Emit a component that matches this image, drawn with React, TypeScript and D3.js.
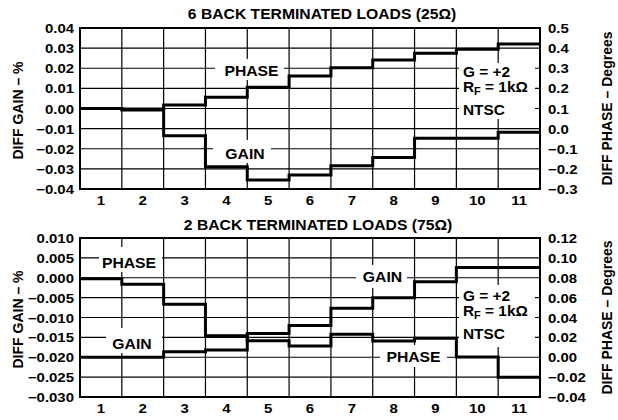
import * as d3 from 'd3';

// x categories: 1..11
const categories = [1, 2, 3, 4, 5, 6, 7, 8, 9, 10, 11];

// top panel: 6 back terminated loads (25 ohm)
const topGain = [0.0, -0.0008, -0.0136, -0.029, -0.0355, -0.0331, -0.0284, -0.0244, -0.0148, -0.0148, -0.0118];
const topPhase = [0.1, 0.097, 0.117, 0.156, 0.205, 0.261, 0.303, 0.341, 0.374, 0.395, 0.421];
const topGainTicks = [0.04, 0.03, 0.02, 0.01, 0, -0.01, -0.02, -0.03, -0.04];
const topPhaseTicks = [0.5, 0.4, 0.3, 0.2, 0.1, 0, -0.1, -0.2, -0.3];

// bottom panel: 2 back terminated loads (75 ohm)
const botGain = [-0.02, -0.02, -0.0186, -0.0182, -0.014, -0.012, -0.0077, -0.005, -0.001, 0.0026, 0.0026];
const botPhase = [0.079, 0.0734, 0.0533, 0.0217, 0.0167, 0.0113, 0.0231, 0.0164, 0.0191, 0.0003, -0.0201];
const botGainTicks = [0.01, 0.005, 0, -0.005, -0.01, -0.015, -0.02, -0.025, -0.03];
const botPhaseTicks = [0.12, 0.1, 0.08, 0.06, 0.04, 0.02, 0, -0.02, -0.04];

const FONT = '"Liberation Sans", Arial, Helvetica, sans-serif';
const X0 = 80;
const X1 = 540;

type Box = { x: number; y: number; w: number; h: number; text: string; tx: number; ty: number };

function T({ x, y, anchor = 'start', size = 13, sx = 1, children }: any) {
  return (
    <text
      transform={`translate(${x},${y}) scale(${sx},1)`}
      textAnchor={anchor}
      fontSize={size}
      fontWeight="bold"
      fontFamily={FONT}
      fill="#000"
    >
      {children}
    </text>
  );
}

function Panel({
  title,
  titleX,
  titleY,
  y0,
  y1,
  gain,
  phase,
  gainTicks,
  phaseTicks,
  gainFmt,
  phaseFmt,
  boxes,
  note,
  xLabelY,
}: {
  title: string;
  titleX: number;
  titleY: number;
  y0: number;
  y1: number;
  gain: number[];
  phase: number[];
  gainTicks: number[];
  phaseTicks: number[];
  gainFmt: string;
  phaseFmt: string;
  boxes: Box[];
  note: { x: number; y: number; w: number; h: number; base: number };
  xLabelY: number;
}) {
  const x = d3.scaleLinear().domain([0.5, 11.5]).range([X0, X1]);
  const yL = d3.scaleLinear().domain([gainTicks[gainTicks.length - 1], gainTicks[0]]).range([y1, y0]);
  const yR = d3.scaleLinear().domain([phaseTicks[phaseTicks.length - 1], phaseTicks[0]]).range([y1, y0]);
  const fL = d3.format(gainFmt);
  const fR = d3.format(phaseFmt);

  const step = (vals: number[], y: d3.ScaleLinear<number, number>) =>
    d3
      .line<[number, number]>()
      .x((d) => x(d[0]))
      .y((d) => y(d[1]))(
      vals.flatMap((v, i) => [
        [categories[i] - 0.5, v] as [number, number],
        [categories[i] + 0.5, v] as [number, number],
      ])
    );

  return (
    <g>
      <T x={titleX} y={titleY} anchor="middle" size={14} sx={1.12}>
        {title}
      </T>
      {/* grid */}
      {categories.slice(0, -1).map((c) => (
        <line key={'v' + c} x1={x(c + 0.5)} x2={x(c + 0.5)} y1={y0} y2={y1} stroke="#000" strokeWidth={1.2} />
      ))}
      {gainTicks.slice(1, -1).map((t) => (
        <line key={'h' + t} x1={X0} x2={X1} y1={yL(t)} y2={yL(t)} stroke="#000" strokeWidth={1.2} />
      ))}
      {/* label backgrounds */}
      {boxes.map((b, i) => (
        <rect key={'b' + i} x={b.x} y={b.y} width={b.w} height={b.h} fill="#fff" />
      ))}
      <rect x={note.x} y={note.y} width={note.w} height={note.h} fill="#fff" />
      {/* series */}
      <path d={step(gain, yL) || ''} fill="none" stroke="#000" strokeWidth={3} />
      <path d={step(phase, yR) || ''} fill="none" stroke="#000" strokeWidth={3} />
      <rect x={X0} y={y0} width={X1 - X0} height={y1 - y0} fill="none" stroke="#000" strokeWidth={2} />
      {boxes.map((b, i) => (
        <T key={'t' + i} x={b.tx} y={b.ty} anchor="middle" size={15} sx={1.05}>
          {b.text}
        </T>
      ))}
      {/* note */}
      <T x={note.x + 4} y={note.base} size={14} sx={1.1}>
        G = +2
      </T>
      <T x={note.x + 4} y={note.base + 15.5} size={14} sx={1.1}>
        <tspan>R</tspan>
        <tspan dy={3} fontSize={10}>
          F
        </tspan>
        <tspan dy={-3}> = 1kΩ</tspan>
      </T>
      <T x={note.x + 4} y={note.base + 38} size={14} sx={1.1}>
        NTSC
      </T>
      {/* axes labels */}
      {gainTicks.map((t) => (
        <T key={'l' + t} x={74} y={yL(t) + 5} anchor="end" size={13} sx={1.15}>
          {fL(t)}
        </T>
      ))}
      {phaseTicks.map((t) => (
        <T key={'r' + t} x={548} y={yR(t) + 5} size={13} sx={1.15}>
          {fR(t)}
        </T>
      ))}
      {categories.map((c) => (
        <T key={'x' + c} x={x(c)} y={xLabelY} anchor="middle" size={13} sx={1.15}>
          {c}
        </T>
      ))}
      <text
        transform={`translate(23,${(y0 + y1) / 2 + 2}) rotate(-90)`}
        textAnchor="middle"
        fontSize={14}
        fontWeight="bold"
        fontFamily={FONT}
      >
        DIFF GAIN – %
      </text>
      <text
        transform={`translate(612,${(y0 + y1) / 2}) rotate(-90)`}
        textAnchor="middle"
        fontSize={14}
        fontWeight="bold"
        fontFamily={FONT}
      >
        DIFF PHASE – Degrees
      </text>
    </g>
  );
}

export default function App() {
  return (
    <svg
      width={618}
      height={420}
      style={{ position: 'absolute', left: 0, top: 0, background: '#fff' }}
    >
      <rect width={618} height={420} fill="#fff" />
      <Panel
        title="6 BACK TERMINATED LOADS (25Ω)"
        titleX={322}
        titleY={18.5}
        y0={28}
        y1={189}
        gain={topGain}
        phase={topPhase}
        gainTicks={topGainTicks}
        phaseTicks={topPhaseTicks}
        gainFmt=".2f"
        phaseFmt=".1f"
        xLabelY={205}
        boxes={[
          { x: 215, y: 59, w: 69, h: 21, text: 'PHASE', tx: 251.5, ty: 76 },
          { x: 213, y: 140, w: 58, h: 23, text: 'GAIN', tx: 245, ty: 159 },
        ]}
        note={{ x: 459, y: 63, w: 76, h: 56, base: 76.5 }}
      />
      <Panel
        title="2 BACK TERMINATED LOADS (75Ω)"
        titleX={318}
        titleY={230}
        y0={238}
        y1={397}
        gain={botGain}
        phase={botPhase}
        gainTicks={botGainTicks}
        phaseTicks={botPhaseTicks}
        gainFmt=".3f"
        phaseFmt=".2f"
        xLabelY={413}
        boxes={[
          { x: 99, y: 247, w: 63, h: 25, text: 'PHASE', tx: 129, ty: 267.5 },
          { x: 106, y: 328, w: 56, h: 25, text: 'GAIN', tx: 132, ty: 348.5 },
          { x: 356, y: 265, w: 51, h: 23, text: 'GAIN', tx: 382.5, ty: 282 },
          { x: 380, y: 345, w: 67, h: 22, text: 'PHASE', tx: 413.5, ty: 362 },
        ]}
        note={{ x: 459, y: 285, w: 76, h: 62, base: 300.5 }}
      />
    </svg>
  );
}
